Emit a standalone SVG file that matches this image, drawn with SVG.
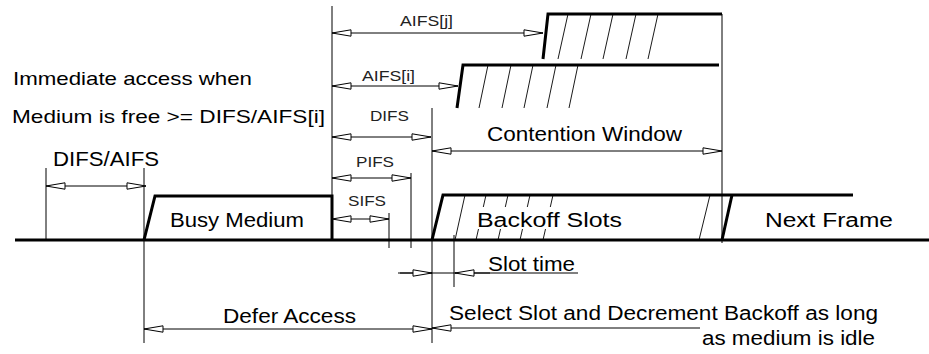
<svg xmlns="http://www.w3.org/2000/svg" width="929" height="354" viewBox="0 0 929 354">
<style>
.bg{fill:#ffffff}
.thin{stroke:#000;stroke-width:1;fill:none}
.thick{stroke:#000;stroke-width:3;fill:none;stroke-linejoin:miter}
.hatch{stroke:#000;stroke-width:0.9;fill:none}
.arr{stroke:#000;stroke-width:1;fill:none;marker-start:url(#ah);marker-end:url(#ah)}
.arrL{stroke:#000;stroke-width:1;fill:none;marker-start:url(#ah)}
.big{font-family:"Liberation Sans",Arial,sans-serif;font-size:20px;fill:#000}
.mid{font-family:"Liberation Sans",Arial,sans-serif;font-size:19px;fill:#000}
.small{font-family:"Liberation Sans",Arial,sans-serif;font-size:15px;fill:#222}
</style>
<defs>
<marker id="ah" viewBox="0 -5 26 10" refX="24" refY="0" markerWidth="26" markerHeight="10" markerUnits="userSpaceOnUse" orient="auto-start-reverse">
<path d="M24,0 L5,-3.2 L5,3.2 Z" fill="#fff" stroke="#000" stroke-width="1"/>
</marker>
<marker id="ahIn" viewBox="0 -5 26 10" refX="24" refY="0" markerWidth="26" markerHeight="10" markerUnits="userSpaceOnUse" orient="auto">
<path d="M24,0 L5,-3.2 L5,3.2 Z" fill="#fff" stroke="#000" stroke-width="1"/>
</marker>
</defs>
<rect class="bg" x="0" y="0" width="929" height="354"/>

<g id="guides">
<line class="thin" x1="332" y1="6" x2="332" y2="240"/>
<line class="thin" x1="722" y1="14" x2="722" y2="243"/>
<line class="thin" x1="432" y1="108" x2="432" y2="343"/>
<line class="thin" x1="411" y1="173" x2="411" y2="248"/>
<line class="thin" x1="389" y1="213" x2="389" y2="248"/>
<line class="thin" x1="46" y1="168" x2="46" y2="240"/>
<line class="thin" x1="144" y1="168" x2="144" y2="343"/>
<line class="thin" x1="454" y1="235" x2="454" y2="287"/>
</g>

<g id="medium-line">
<line class="thick" x1="15" y1="240" x2="929" y2="240"/>
</g>

<g id="busy-medium">
<path class="thick" d="M144,240 L155,196 L332,196 L332,240"/>
<text class="big" x="170" y="227" textLength="134" lengthAdjust="spacingAndGlyphs">Busy Medium</text>
</g>

<g id="aifs-j-window">
<path class="thick" d="M543,59 L548,14 L722,14"/>
<line class="hatch" x1="568" y1="14" x2="558" y2="59"/>
<line class="hatch" x1="591" y1="14" x2="581" y2="59"/>
<line class="hatch" x1="613" y1="14" x2="603" y2="59"/>
<line class="hatch" x1="636" y1="14" x2="626" y2="59"/>
<line class="hatch" x1="658" y1="14" x2="648" y2="59"/>
</g>

<g id="aifs-i-window">
<path class="thick" d="M457,108 L463,65 L719,65"/>
<line class="hatch" x1="488" y1="65" x2="479" y2="108"/>
<line class="hatch" x1="511" y1="65" x2="502" y2="108"/>
<line class="hatch" x1="533" y1="65" x2="524" y2="108"/>
<line class="hatch" x1="556" y1="65" x2="547" y2="108"/>
<line class="hatch" x1="578" y1="65" x2="569" y2="108"/>
</g>

<g id="backoff-slots">
<path class="thick" d="M432,240 L443,195 L853,195"/>
<line class="hatch" x1="465" y1="195" x2="455" y2="240"/>
<line class="hatch" x1="486" y1="195" x2="483.3" y2="207"/>
<line class="hatch" x1="478.5" y1="229" x2="476" y2="240"/>
<line class="hatch" x1="508" y1="195" x2="505.3" y2="207"/>
<line class="hatch" x1="500.5" y1="229" x2="498" y2="240"/>
<line class="hatch" x1="530" y1="195" x2="527.3" y2="207"/>
<line class="hatch" x1="522.5" y1="229" x2="520" y2="240"/>
<line class="hatch" x1="553" y1="195" x2="550.3" y2="207"/>
<line class="hatch" x1="545.5" y1="229" x2="543" y2="240"/>
<line class="hatch" x1="710" y1="195" x2="699" y2="240"/>
<text class="big" x="477" y="227" textLength="145" lengthAdjust="spacingAndGlyphs">Backoff Slots</text>
</g>

<g id="next-frame">
<line class="thick" x1="722" y1="240" x2="732" y2="195"/>
<text class="big" x="765" y="227" textLength="128" lengthAdjust="spacingAndGlyphs">Next Frame</text>
</g>

<g id="connectors">
<line class="arr" x1="332" y1="33" x2="543" y2="33"/>
<line class="arr" x1="332" y1="86" x2="458" y2="86"/>
<line class="arr" x1="332" y1="137" x2="431" y2="137"/>
<line class="arr" x1="432" y1="151" x2="722" y2="151"/>
<line class="arr" x1="332" y1="178" x2="411" y2="178"/>
<line class="arr" x1="332" y1="219" x2="389" y2="219"/>
<line class="arr" x1="46" y1="186" x2="146" y2="186"/>
<line class="arr" x1="144" y1="329" x2="432" y2="329"/>
<line class="arrL" x1="432" y1="328" x2="700" y2="328"/>
<line class="thin" x1="398" y1="273" x2="578" y2="273"/>
<line class="thin" x1="400" y1="273" x2="432" y2="273" style="marker-end:url(#ahIn)"/>
<line class="thin" x1="490" y1="273" x2="455" y2="273" style="marker-end:url(#ahIn)"/>
</g>

<g id="labels">
<text class="mid" x="13" y="85" textLength="239" lengthAdjust="spacingAndGlyphs">Immediate access when</text>
<text class="mid" x="12" y="123" textLength="313" lengthAdjust="spacingAndGlyphs">Medium is free &gt;= DIFS/AIFS[i]</text>
<text class="big" x="53" y="166" textLength="106" lengthAdjust="spacingAndGlyphs">DIFS/AIFS</text>
<text class="small" x="400" y="26" textLength="53" lengthAdjust="spacingAndGlyphs">AIFS[j]</text>
<text class="small" x="362" y="81" textLength="53" lengthAdjust="spacingAndGlyphs">AIFS[i]</text>
<text class="small" x="370" y="121" textLength="39" lengthAdjust="spacingAndGlyphs">DIFS</text>
<text class="small" x="356" y="167" textLength="38" lengthAdjust="spacingAndGlyphs">PIFS</text>
<text class="small" x="348" y="206" textLength="38" lengthAdjust="spacingAndGlyphs">SIFS</text>
<text class="big" x="487" y="141" textLength="195" lengthAdjust="spacingAndGlyphs">Contention Window</text>
<text class="big" x="488" y="271" textLength="87" lengthAdjust="spacingAndGlyphs">Slot time</text>
<text class="big" x="223" y="323" textLength="133" lengthAdjust="spacingAndGlyphs">Defer Access</text>
<text class="big" x="449" y="320" textLength="429" lengthAdjust="spacingAndGlyphs">Select Slot and Decrement Backoff as long</text>
<text class="big" x="702" y="345" textLength="173" lengthAdjust="spacingAndGlyphs">as medium is idle</text>
</g>
</svg>
